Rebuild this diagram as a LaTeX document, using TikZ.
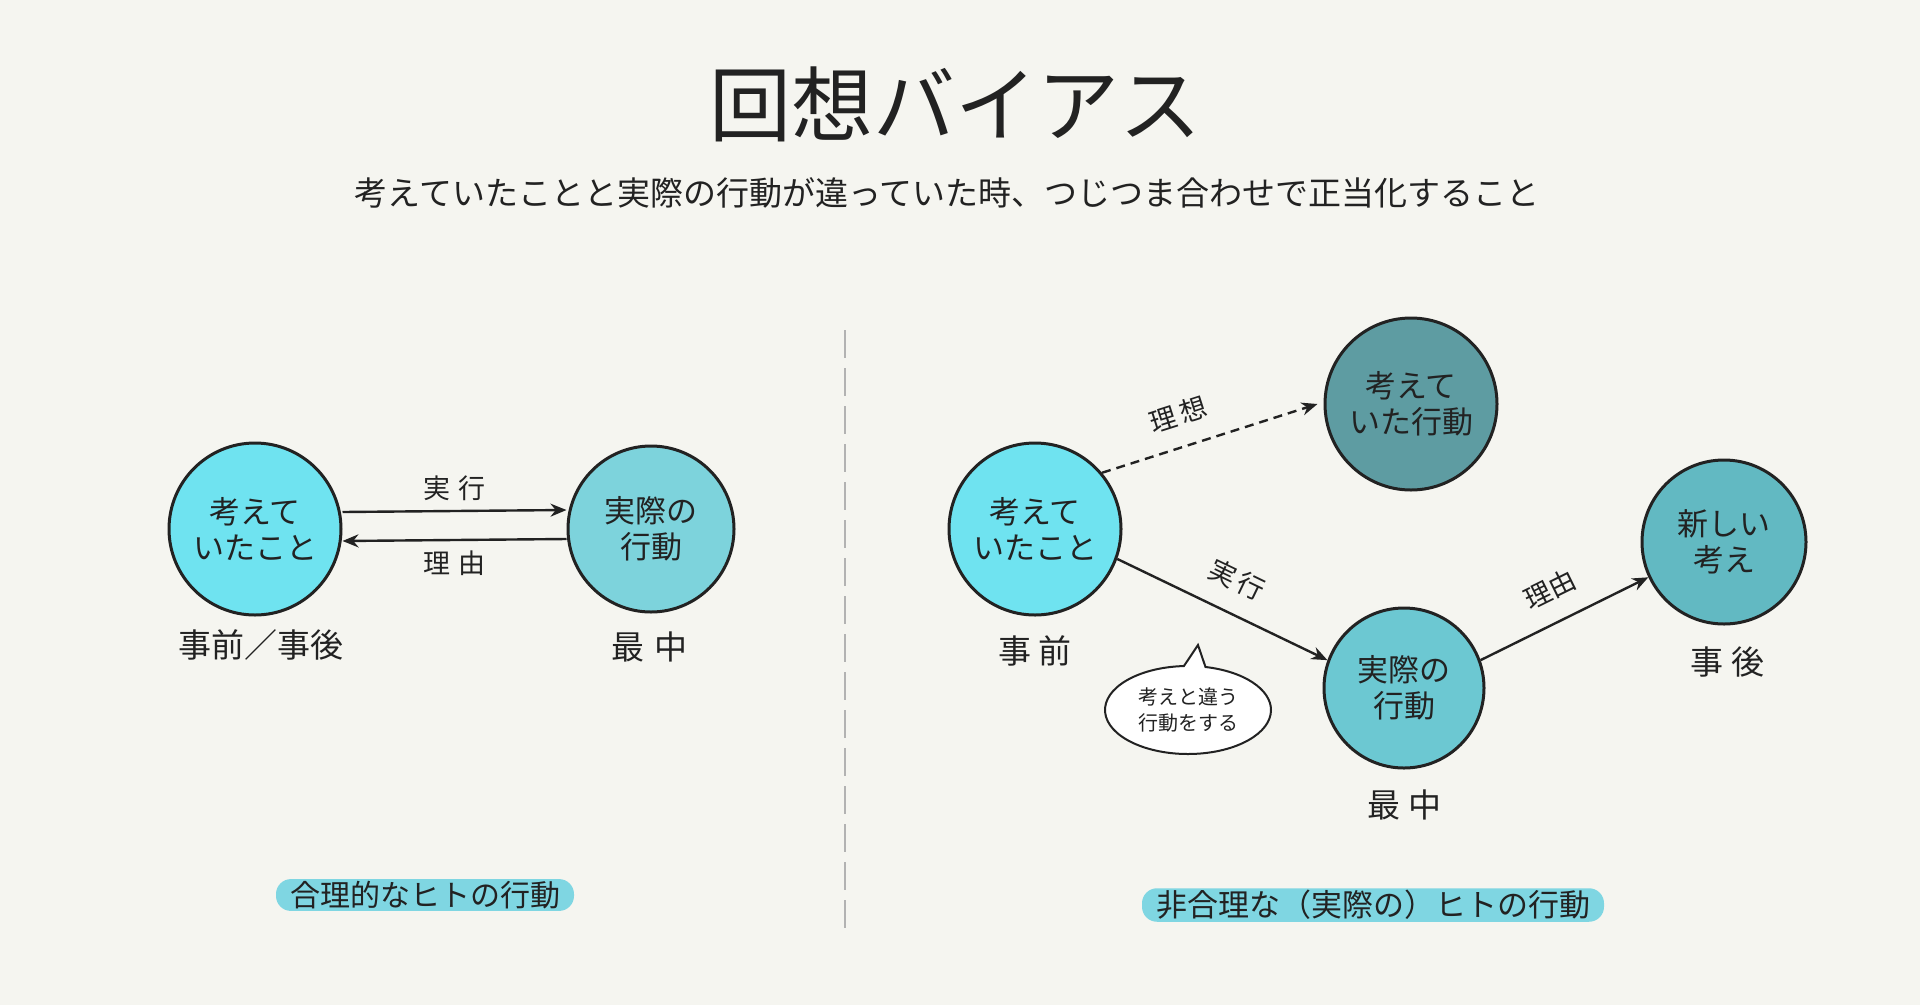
\documentclass[tikz,border=0pt]{standalone}
\usepackage{fontspec}
\setmainfont{Noto Sans CJK JP}
\usetikzlibrary{arrows.meta,shapes.callouts}
\definecolor{bg}{HTML}{F5F5F0}
\definecolor{ink}{HTML}{222222}
\definecolor{cyanA}{HTML}{6FE3F0}
\definecolor{tealB}{HTML}{7DD3DC}
\definecolor{grayT}{HTML}{5E9CA2}
\definecolor{tealC}{HTML}{6CC8D2}
\definecolor{tealD}{HTML}{62B9C2}
\definecolor{hl}{HTML}{7FD6E2}
\tikzset{
 bub/.style={circle,draw=ink,line width=3pt,align=center,font=\fontsize{31}{36}\selectfont,text=ink,inner sep=0pt},
 arr/.style={-{Stealth[length=16pt,width=13pt]},line width=2.4pt,draw=ink},
 lab/.style={font=\fontsize{27}{30}\selectfont,text=ink},
 captext/.style={font=\fontsize{33}{36}\selectfont,text=ink},
 hlt/.style={fill=hl,rounded corners=15pt,font=\fontsize{#1}{32}\selectfont,text=ink,inner xsep=14pt,inner ysep=2pt}
}
\begin{document}
\begin{tikzpicture}[x=1pt,y=-1pt]
\fill[bg] (0,0) rectangle (1920,1005);
\useasboundingbox (0,0) rectangle (1920,1005);
\node[font=\fontsize{82}{90}\selectfont,text=ink] (title) at (955,104) {回想バイアス};
\node[font=\fontsize{33}{36}\selectfont,text=ink] (sub) at (947,193) {考えていたことと実際の行動が違っていた時、つじつま合わせで正当化すること};
\coordinate (d1) at (845,330); \coordinate (d2) at (845,937);
\draw[gray!60,line width=2.5pt,dash pattern=on 28pt off 10pt] (d1) -- (d2);
% left
\node[bub,fill=cyanA,minimum size=172pt] (la) at (255,529) {考えて\\いたこと};
\node[bub,fill=tealB,minimum size=166pt] (lb) at (651,529) {実際の\\行動};
\draw[arr] ([yshift=17pt]la.east) -- node[lab,above=6pt]{実\hspace{8pt}行} ([yshift=19pt]lb.west);
\draw[arr] ([yshift=-10pt]lb.west) -- node[lab,below=6pt]{理\hspace{8pt}由} ([yshift=-12pt]la.east);
\node[captext] (l1) at (261,645) {事前／事後};
\node[captext] (l2) at (649,647) {最\hspace{10pt}中};
\node[hlt=30] (lh) at (425,895) {合理的なヒトの行動};
% right
\node[bub,fill=cyanA,minimum size=172pt] (ra) at (1035,529) {考えて\\いたこと};
\node[bub,fill=grayT,minimum size=172pt] (rb) at (1411,404) {考えて\\いた行動};
\node[bub,fill=tealC,minimum size=160pt] (rc) at (1404,688) {実際の\\行動};
\node[bub,fill=tealD,minimum size=164pt] (rd) at (1724,542) {新しい\\考え};
\draw[arr,dash pattern=on 9pt off 6pt] (ra.40) -- node[lab,sloped,above=16pt,pos=0.4]{理\hspace{4pt}想} ([xshift=-6pt]rb.west);
\draw[arr] (ra.-20) -- node[lab,sloped,above=16pt,pos=0.5]{実\hspace{4pt}行} (rc.160);
\draw[arr] (rc.20) -- node[lab,sloped,above=16pt]{理由} (rd.205);
\node[captext] (r1) at (1035,651) {事\hspace{8pt}前};
\node[captext] (r2) at (1404,805) {最\hspace{8pt}中};
\node[captext] (r3) at (1727,662) {事\hspace{8pt}後};
\node[ellipse callout,draw=ink,line width=2pt,fill=white,minimum width=166pt,minimum height=88pt,align=center,font=\fontsize{20}{26}\selectfont,text=ink,callout absolute pointer={(1198,645)}] (sp) at (1188,710) {考えと違う\\行動をする};
\node[hlt=31] (rh) at (1373,905) {非合理な（実際の）ヒトの行動};
\end{tikzpicture}
\end{document}
